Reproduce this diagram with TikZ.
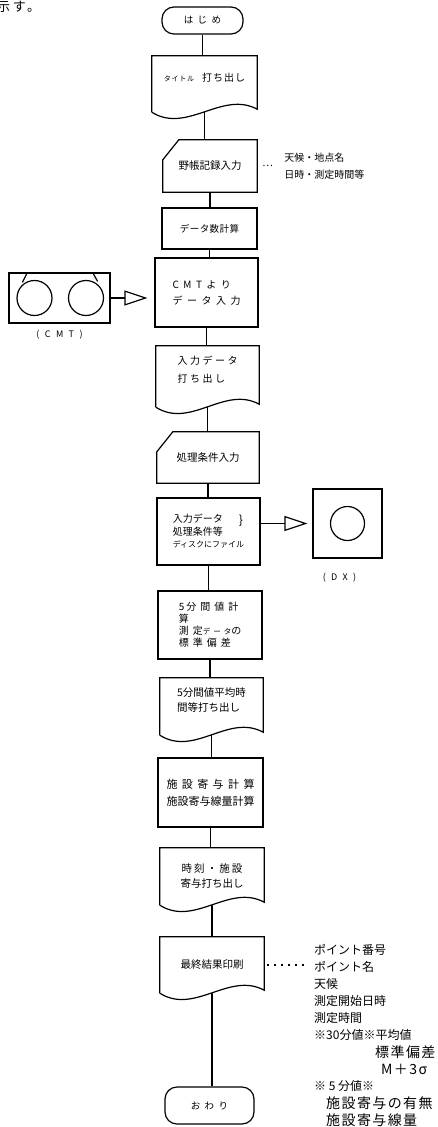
\documentclass[tikz,border=0pt]{standalone}
\usepackage{fontspec}
\setmainfont{Noto Sans CJK JP}
\usetikzlibrary{positioning,arrows.meta,calc}
\newcommand{\boxfont}[3]{\fontsize{#1}{#2}\selectfont\addfontfeatures{LetterSpace=#3}}

\begin{document}
\begin{tikzpicture}[x=1pt, y=-1pt,
    every node/.style={font=\fontsize{10.5}{15}\selectfont, inner sep=1pt},
    line/.style={line width=1.2pt},
    termbox/.style={draw, line width=1.2pt, rounded corners=12pt},
    procbox/.style={draw, line width=1.2pt},
    docbox/.style={minimum width=104pt, minimum height=57pt},
    manbox/.style={},
    tapetip/.style={-{Triangle[open, length=23pt, width=15pt]}, line width=1.2pt},
    dotline/.style={line width=1.4pt, dash pattern=on 1.4pt off 5.6pt, shorten <=3pt},
    item/.style={anchor=west, inner sep=0pt, font=\fontsize{12}{14}\selectfont},
    itemwide/.style={anchor=west, inner sep=0pt, font=\boxfont{14}{16}{10}}]
  \fill[white] (0,0) rectangle (438,1127);
  \useasboundingbox (0,0) rectangle (438,1127);
  \node[anchor=base west, inner sep=0, font=\boxfont{13}{14}{20}] (lead) at (-3,12) {示す。};

  % 流れ図
  \node[termbox, minimum width=81pt, minimum height=27pt, font=\boxfont{9.5}{12}{45}] (start) at (202.5,20.5) {はじめ};
  \node[docbox, minimum width=105pt, minimum height=56pt] (title) at (204.5,84) {};
  \node[font=\boxfont{10}{12}{10}] (titletext) at ([yshift=6pt]title.center)
    {{\fontsize{7}{8}\selectfont タイトル}\hspace{8pt}打ち出し};
  \node[manbox, minimum width=94pt, minimum height=52pt] (field) at (210,166) {野帳記録入力};
  \node[procbox, minimum width=95pt, minimum height=41pt, font=\boxfont{9.5}{12}{5}] (count) at (209.5,228.5) {データ数計算};
  \node[procbox, minimum width=103pt, minimum height=69pt, align=left, font=\boxfont{10}{16}{45}] (cmtin) at (206.5,292.5) {CMTより\\データ入力};
  \node[docbox, minimum width=103pt, minimum height=61pt] (inlist) at (207.5,376.5) {};
  \node[align=left, font=\boxfont{10}{18}{25}] (inlisttext) at ([yshift=7pt]inlist.center) {入力データ\\打ち出し};
  \node[manbox, minimum width=102pt, minimum height=51pt] (cond) at (208,457.5) {処理条件入力};
  \node[procbox, minimum width=103pt, minimum height=67pt, align=left, font=\fontsize{10}{12.5}\selectfont] (file) at (208.5,531.5)
    {入力データ\\処理条件等\\{\fontsize{8}{10}\selectfont ディスクにファイル}};
  \node[inner sep=0, font=\fontsize{12}{12}\selectfont] (filebrace) at (241,521) {\}};
  \node[procbox, minimum width=104pt, minimum height=68pt, align=left, font=\boxfont{10}{12}{40}] (calc5) at (210,625)
    {5\hspace{2pt}分間値計\\算\\測定{\fontsize{7.5}{8}\selectfont データ}の\\標準偏差};
  \node[docbox, minimum width=103pt, minimum height=57pt] (avgout) at (211.5,706.5) {};
  \node[align=left] (avgouttext) at ([yshift=6pt]avgout.center) {5分間値平均時\\間等打ち出し};
  \node[procbox, minimum width=105pt, minimum height=69pt, align=center, font=\fontsize{11}{17}\selectfont] (contrib) at (210.5,792.5)
    {{\addfontfeatures{LetterSpace=40}施設寄与計算}\\施設寄与線量計算};
  \node[docbox, minimum width=104pt, minimum height=57pt] (contout) at (212,876.5) {};
  \node[align=center] (contouttext) at ([yshift=1pt]contout.center) {{\addfontfeatures{LetterSpace=20}時刻・施設}\\寄与打ち出し};
  \node[docbox, minimum width=104pt, minimum height=56pt] (final) at (212,965) {};
  \node (finaltext) at (final.center) {最終結果印刷};
  \node[termbox, minimum width=89pt, minimum height=37pt, font=\boxfont{9.5}{12}{45}] (finish) at (209.5,1105.5) {おわり};

  % 書類の外形（下辺は波形）
  \foreach \nm in {title, inlist, avgout, contout, final}
    \draw[line] (\nm.south west) -- (\nm.north west) -- (\nm.north east) -- ([yshift=3pt]\nm.south east)
      .. controls ([xshift=-35pt, yshift=22pt]\nm.south east) and ([xshift=35pt, yshift=-22pt]\nm.south west) .. (\nm.south west);
  % 手操作入力の外形
  \foreach \nm in {field, cond}
    \draw[line] (\nm.south west) -- ([yshift=-20pt]\nm.north west) -- ([xshift=16pt]\nm.north west)
      -- (\nm.north east) -- (\nm.south east) -- cycle;
  % 流れ線
  \foreach \a/\b in {start/title, title/field, field/count, count/cmtin, cmtin/inlist, inlist/cond, cond/file,
      file/calc5, calc5/avgout, avgout/contrib, contrib/contout, contout/final, final/finish}
    \draw[line] (\a.south) -- (\a.south |- \b.north);

  % CMT
  \node[procbox, minimum width=101pt, minimum height=50pt] (cmt) at (59.5,298) {};
  \draw[line] ([xshift=-25pt]cmt.center) circle (17.5pt) ([xshift=26.5pt]cmt.center) circle (17.5pt);
  \draw[line] ([xshift=19pt]cmt.north west) -- ([xshift=14pt, yshift=-10pt]cmt.north west)
    ([xshift=-18pt]cmt.north east) -- ([xshift=-13pt, yshift=-9pt]cmt.north east);
  \node[below=5pt of cmt, font=\boxfont{9}{10}{60}] (cmtlabel) {(CMT)};
  \draw[tapetip] (cmt.east) -- ($(cmtin.west |- cmt.east)+(-7,0)$);

  % DX
  \node[procbox, minimum size=69pt] (dx) at (347.5,523.5) {};
  \draw[line] (dx.center) circle (17pt);
  \node[below=13pt of dx, xshift=-8pt, font=\boxfont{9}{10}{60}] (dxlabel) {(DX)};
  \draw[tapetip] (file.east |- dx.west) -- ($(dx.west)+(-5,0)$);

  % 注記
  \node[right=5pt of field, inner sep=0, font=\fontsize{10}{12}\selectfont] (fielddots) {…};
  \node[right=11pt of fielddots, inner sep=0, align=left, font=\fontsize{10}{17}\selectfont] (fieldnote) {天候・地点名\\日時・測定時間等};

  % 出力項目
  \foreach \x/\y/\nm/\txt in {314/950/pnum/ポイント番号, 314/967/pname/ポイント名, 314/984/weather/天候,
      314/1001/tstart/測定開始日時, 314/1018/tspan/測定時間, 314/1035/avg30/※30分値※平均値, 314/1086/val5/※ 5 分値※}
    \node[item] (\nm) at (\x,\y) {\txt};
  \foreach \x/\y/\nm/\txt in {375/1052/sdev/標準偏差, 381/1069/msig/M＋3σ,
      326/1103/contyn/施設寄与の有無, 326/1120/contdose/施設寄与線量}
    \node[itemwide] (\nm) at (\x,\y) {\txt};
  \draw[dotline] (final.east) -- ($(final.east -| pname.west)+(-5,0)$);
\end{tikzpicture}
\end{document}
